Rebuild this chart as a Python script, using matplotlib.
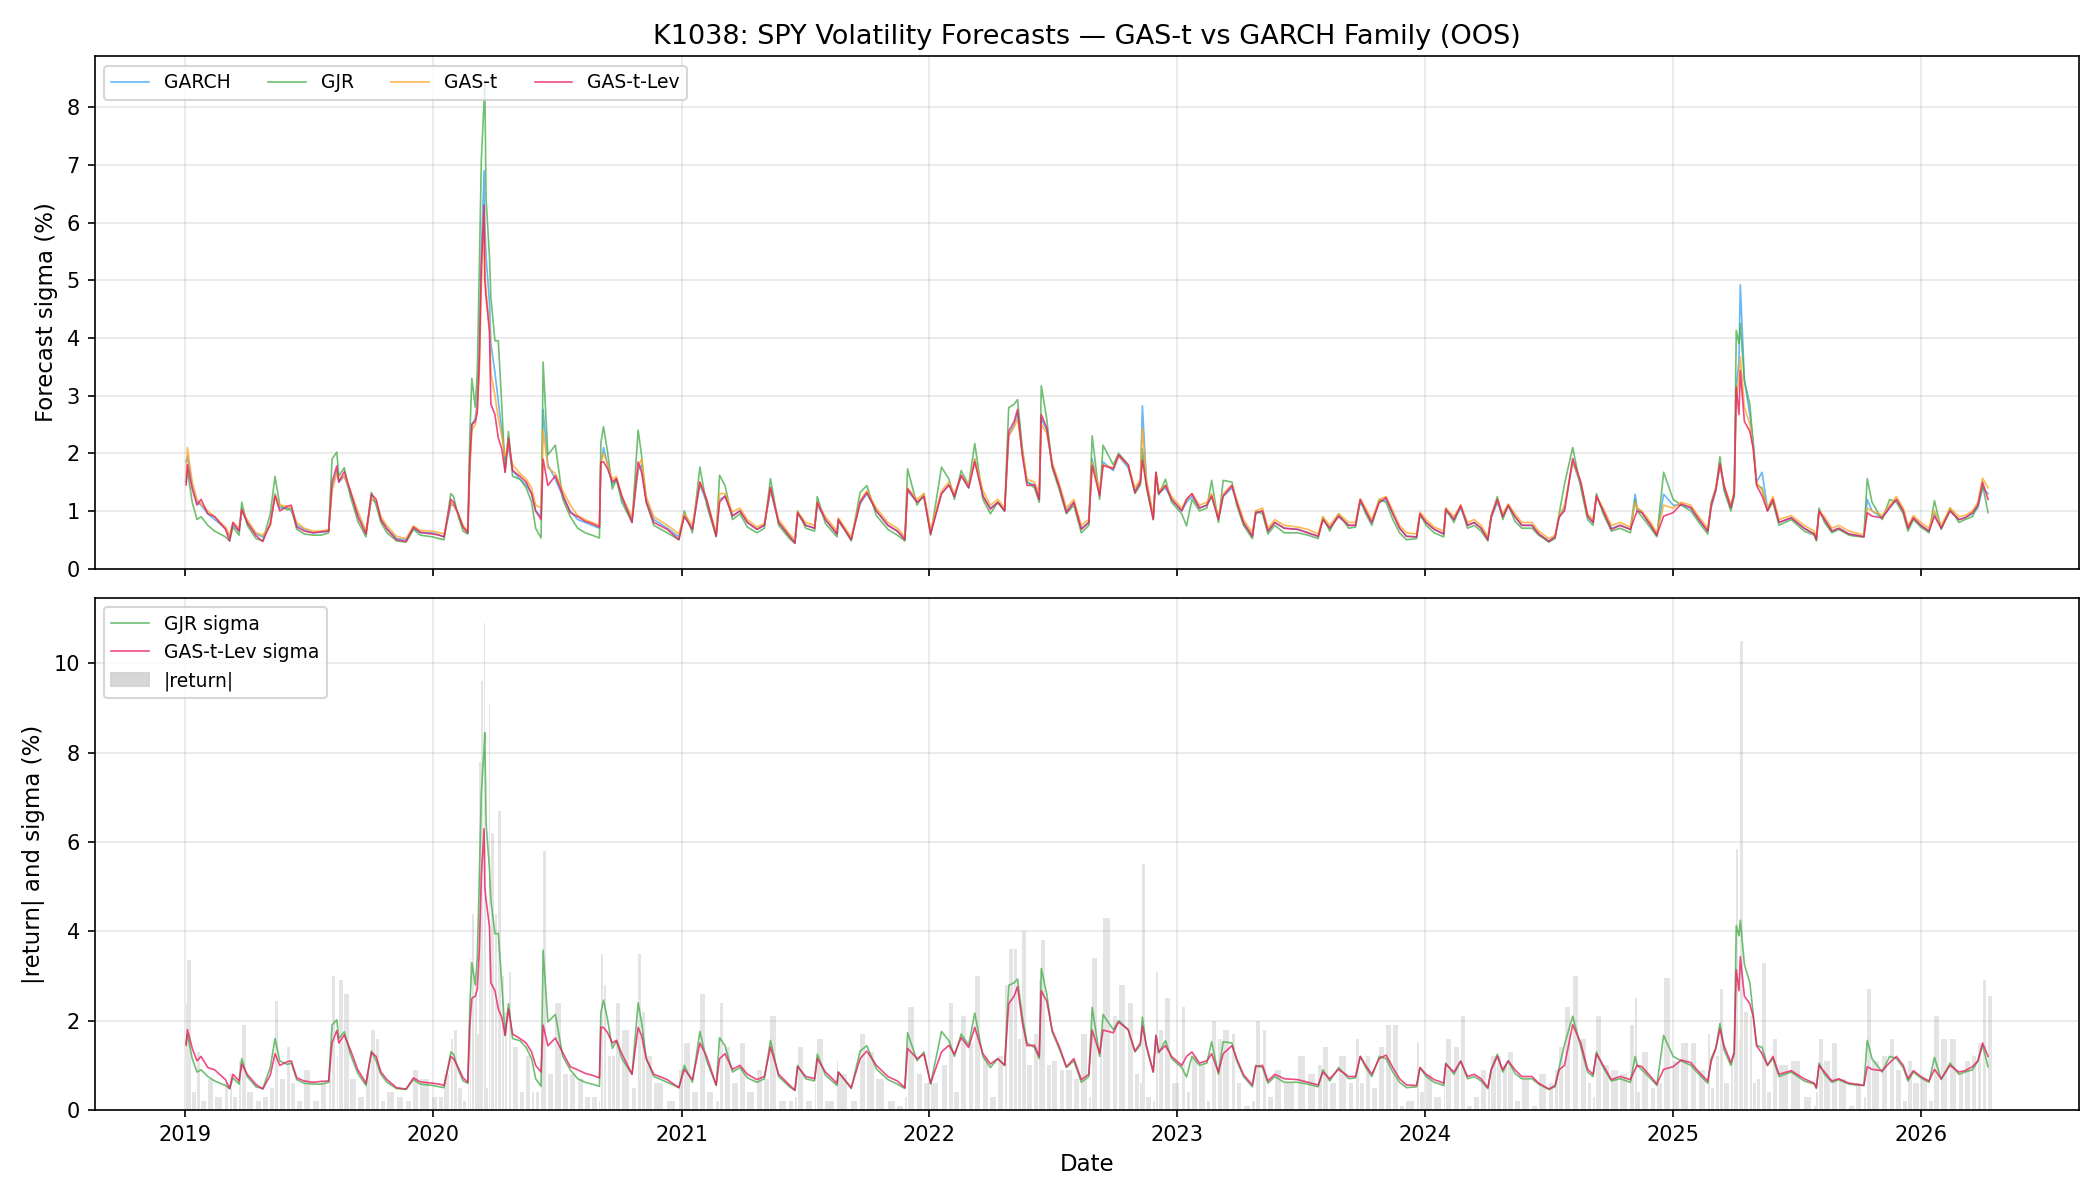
import numpy as np
import pandas as pd
import matplotlib
matplotlib.use("Agg")
import matplotlib.pyplot as plt
import matplotlib.dates as mdates
from matplotlib.patches import Patch
from matplotlib.lines import Line2D

# ---------------- DATA ----------------

dates = [
    # 2019
    "2019-01-02", "2019-01-04", "2019-01-11", "2019-01-18", "2019-01-24", "2019-02-03",
    "2019-02-13", "2019-03-01", "2019-03-07", "2019-03-12", "2019-03-21", "2019-03-25",
    "2019-04-02", "2019-04-15", "2019-04-25", "2019-05-06", "2019-05-13", "2019-05-20",
    "2019-05-31", "2019-06-06", "2019-06-14", "2019-06-25", "2019-07-08", "2019-07-20",
    "2019-07-31", "2019-08-05", "2019-08-12", "2019-08-15", "2019-08-23", "2019-09-01",
    "2019-09-12", "2019-09-24", "2019-10-02", "2019-10-09", "2019-10-16", "2019-10-25",
    "2019-11-08", "2019-11-22", "2019-12-03", "2019-12-13", "2019-12-31",
    # 2020
    "2020-01-10", "2020-01-17", "2020-01-27", "2020-01-31", "2020-02-07", "2020-02-14",
    "2020-02-21", "2020-02-24", "2020-02-27", "2020-03-03", "2020-03-06", "2020-03-09",
    "2020-03-12", "2020-03-16", "2020-03-17", "2020-03-19", "2020-03-24", "2020-03-26",
    "2020-04-01", "2020-04-06", "2020-04-11", "2020-04-16", "2020-04-21", "2020-04-27",
    "2020-05-08", "2020-05-17", "2020-05-25", "2020-05-31", "2020-06-08", "2020-06-11",
    "2020-06-18", "2020-06-29", "2020-07-10", "2020-07-21", "2020-08-01", "2020-08-12",
    "2020-08-22", "2020-09-02", "2020-09-04", "2020-09-08", "2020-09-14", "2020-09-21",
    "2020-09-27", "2020-10-05", "2020-10-20", "2020-10-29", "2020-11-03", "2020-11-10",
    "2020-11-21", "2020-12-11", "2020-12-28",
    # 2021
    "2021-01-05", "2021-01-17", "2021-01-28", "2021-02-07", "2021-02-21", "2021-02-26",
    "2021-03-06", "2021-03-17", "2021-03-28", "2021-04-08", "2021-04-22", "2021-05-03",
    "2021-05-12", "2021-05-24", "2021-06-09", "2021-06-17", "2021-06-21", "2021-07-03",
    "2021-07-16", "2021-07-20", "2021-08-01", "2021-08-18", "2021-08-20", "2021-09-08",
    "2021-09-21", "2021-10-01", "2021-10-15", "2021-11-01", "2021-11-15", "2021-11-26",
    "2021-11-30", "2021-12-14", "2021-12-24",
    # 2022
    "2022-01-03", "2022-01-19", "2022-01-30", "2022-02-07", "2022-02-17", "2022-02-28",
    "2022-03-09", "2022-03-21", "2022-04-01", "2022-04-12", "2022-04-22", "2022-04-28",
    "2022-05-06", "2022-05-11", "2022-05-18", "2022-05-25", "2022-06-05", "2022-06-12",
    "2022-06-15", "2022-06-23", "2022-07-01", "2022-07-12", "2022-07-22", "2022-08-02",
    "2022-08-13", "2022-08-24", "2022-08-29", "2022-09-09", "2022-09-14", "2022-09-29",
    "2022-10-07", "2022-10-21", "2022-10-31", "2022-11-08", "2022-11-11", "2022-11-17",
    "2022-11-27", "2022-12-01", "2022-12-05", "2022-12-15", "2022-12-24",
    # 2023
    "2023-01-08", "2023-01-15", "2023-01-23", "2023-02-03", "2023-02-14", "2023-02-21",
    "2023-03-03", "2023-03-10", "2023-03-23", "2023-03-30", "2023-04-09", "2023-04-22",
    "2023-04-27", "2023-05-07", "2023-05-15", "2023-05-25", "2023-06-08", "2023-06-28",
    "2023-07-13", "2023-07-28", "2023-08-04", "2023-08-14", "2023-08-27", "2023-09-11",
    "2023-09-21", "2023-09-28", "2023-10-06", "2023-10-15", "2023-10-26", "2023-11-05",
    "2023-11-15", "2023-11-25", "2023-12-05", "2023-12-20", "2023-12-25",
    # 2024
    "2024-01-03", "2024-01-15", "2024-01-29", "2024-02-01", "2024-02-13", "2024-02-23",
    "2024-03-04", "2024-03-14", "2024-03-24", "2024-04-03", "2024-04-08", "2024-04-17",
    "2024-04-25", "2024-05-03", "2024-05-13", "2024-05-23", "2024-06-07", "2024-06-17",
    "2024-07-02", "2024-07-11", "2024-07-17", "2024-07-25", "2024-08-06", "2024-08-18",
    "2024-08-28", "2024-09-05", "2024-09-10", "2024-09-20", "2024-10-02", "2024-10-15",
    "2024-10-30", "2024-11-06", "2024-11-09", "2024-11-16", "2024-11-29", "2024-12-08",
    "2024-12-18",
    # 2025
    "2025-01-01", "2025-01-13", "2025-01-27", "2025-02-08", "2025-02-21", "2025-02-26",
    "2025-03-05", "2025-03-11", "2025-03-17", "2025-03-27", "2025-04-01", "2025-04-04",
    "2025-04-08", "2025-04-10", "2025-04-16", "2025-04-24", "2025-04-29", "2025-05-04",
    "2025-05-12", "2025-05-20", "2025-05-28", "2025-06-06", "2025-06-24", "2025-07-13",
    "2025-07-28", "2025-07-31", "2025-08-04", "2025-08-12", "2025-08-23", "2025-09-02",
    "2025-09-17", "2025-09-27", "2025-10-09", "2025-10-14", "2025-10-21", "2025-11-05",
    "2025-11-16", "2025-11-26", "2025-12-06", "2025-12-13", "2025-12-21",
    # 2026
    "2026-01-01", "2026-01-13", "2026-01-21", "2026-01-31", "2026-02-13", "2026-02-26",
    "2026-03-07", "2026-03-18", "2026-03-26", "2026-04-02", "2026-04-10",
]

garch = [
    # 2019
    1.85, 1.95, 1.45, 1.15, 1.10, 0.95, 0.85, 0.70, 0.55, 0.75, 0.65, 1.00,
    0.80, 0.60, 0.55, 0.75, 1.30, 1.05, 1.05, 1.00, 0.75, 0.68, 0.62, 0.63,
    0.65, 1.40, 1.70, 1.50, 1.60, 1.30, 0.95, 0.62, 1.20, 1.15, 0.85, 0.70,
    0.52, 0.50, 0.70, 0.62, 0.62,
    # 2020
    0.58, 0.55, 1.10, 1.10, 0.95, 0.72, 0.62, 1.80, 2.50, 2.60, 2.90, 3.80,
    5.50, 6.90, 6.00, 5.40, 4.60, 3.90, 3.40, 2.90, 2.40, 1.90, 2.10, 1.70,
    1.55, 1.45, 1.30, 1.00, 0.90, 2.76, 1.80, 1.55, 1.25, 1.00, 0.85, 0.80,
    0.75, 0.70, 1.80, 2.10, 1.80, 1.45, 1.55, 1.20, 0.85, 1.70, 1.80, 1.20,
    0.85, 0.70, 0.55,
    # 2021
    0.90, 0.70, 1.45, 1.15, 0.58, 1.20, 1.25, 0.92, 1.00, 0.80, 0.68, 0.75,
    1.35, 0.80, 0.56, 0.46, 0.95, 0.75, 0.70, 1.10, 0.85, 0.60, 0.82, 0.52,
    1.12, 1.30, 1.00, 0.75, 0.65, 0.52, 1.35, 1.15, 1.25,
    # 2022
    0.62, 1.30, 1.45, 1.25, 1.60, 1.40, 1.90, 1.26, 1.05, 1.15, 1.00, 2.30,
    2.50, 2.70, 2.00, 1.50, 1.45, 1.20, 2.60, 2.40, 1.80, 1.40, 1.00, 1.15,
    0.70, 0.80, 1.90, 1.30, 1.85, 1.70, 1.95, 1.75, 1.35, 1.50, 2.82, 1.50,
    0.88, 1.60, 1.30, 1.40, 1.20,
    # 2023
    1.00, 1.15, 1.25, 1.05, 1.10, 1.25, 0.85, 1.25, 1.40, 1.15, 0.80, 0.56,
    0.95, 1.00, 0.65, 0.80, 0.70, 0.68, 0.62, 0.56, 0.85, 0.70, 0.90, 0.75,
    0.75, 1.15, 1.00, 0.80, 1.15, 1.20, 0.95, 0.70, 0.56, 0.55, 0.92,
    # 2024
    0.80, 0.68, 0.60, 1.00, 0.85, 1.05, 0.75, 0.80, 0.70, 0.52, 0.88, 1.15,
    0.90, 1.08, 0.90, 0.75, 0.75, 0.60, 0.48, 0.55, 0.88, 1.05, 1.85, 1.45,
    0.90, 0.80, 1.25, 1.00, 0.70, 0.75, 0.68, 1.29, 1.05, 0.97, 0.75, 0.58,
    1.29,
    # 2025
    1.10, 1.10, 1.05, 0.85, 0.65, 1.05, 1.35, 1.80, 1.40, 1.05, 1.30, 3.14,
    3.60, 4.92, 3.26, 2.67, 2.20, 1.50, 1.67, 1.05, 1.20, 0.80, 0.88, 0.70,
    0.60, 0.50, 1.00, 0.85, 0.65, 0.70, 0.60, 0.58, 0.55, 1.20, 1.00, 0.88,
    1.05, 1.20, 1.00, 0.70, 0.88,
    # 2026
    0.75, 0.65, 0.95, 0.70, 1.00, 0.85, 0.88, 0.95, 1.05, 1.40, 1.30,
]

gjr = [
    # 2019
    1.50, 1.70, 1.15, 0.85, 0.90, 0.75, 0.65, 0.55, 0.48, 0.72, 0.58, 1.15,
    0.75, 0.52, 0.48, 0.95, 1.60, 1.10, 1.02, 1.05, 0.68, 0.60, 0.58, 0.58,
    0.62, 1.90, 2.02, 1.60, 1.75, 1.25, 0.82, 0.55, 1.32, 1.10, 0.80, 0.62,
    0.48, 0.46, 0.68, 0.58, 0.55,
    # 2020
    0.52, 0.50, 1.30, 1.25, 0.90, 0.65, 0.60, 2.30, 3.30, 2.80, 3.40, 5.20,
    7.10, 8.10, 8.45, 6.40, 5.40, 4.70, 3.95, 3.95, 2.85, 1.67, 2.38, 1.60,
    1.55, 1.40, 1.15, 0.70, 0.53, 3.58, 1.97, 2.14, 1.20, 0.90, 0.70, 0.62,
    0.58, 0.53, 2.17, 2.46, 2.02, 1.38, 1.55, 1.15, 0.80, 2.40, 1.97, 1.15,
    0.75, 0.62, 0.50,
    # 2021
    1.00, 0.62, 1.76, 1.10, 0.55, 1.62, 1.44, 0.85, 0.95, 0.72, 0.62, 0.70,
    1.56, 0.75, 0.52, 0.44, 1.00, 0.70, 0.65, 1.25, 0.78, 0.55, 0.85, 0.48,
    1.32, 1.44, 0.92, 0.68, 0.58, 0.48, 1.73, 1.10, 1.30,
    # 2022
    0.58, 1.76, 1.55, 1.20, 1.70, 1.45, 2.17, 1.20, 0.95, 1.15, 1.00, 2.79,
    2.85, 2.93, 2.10, 1.50, 1.40, 1.15, 3.17, 2.60, 1.75, 1.35, 0.95, 1.10,
    0.62, 0.75, 2.30, 1.20, 2.14, 1.80, 2.00, 1.80, 1.30, 1.45, 2.08, 1.40,
    0.85, 1.67, 1.28, 1.55, 1.15,
    # 2023
    0.95, 0.74, 1.20, 1.00, 1.05, 1.53, 0.80, 1.53, 1.50, 1.10, 0.75, 0.52,
    1.00, 0.95, 0.60, 0.75, 0.62, 0.62, 0.58, 0.52, 0.90, 0.65, 0.95, 0.70,
    0.72, 1.20, 0.95, 0.75, 1.20, 1.15, 0.85, 0.62, 0.50, 0.52, 0.95,
    # 2024
    0.75, 0.62, 0.55, 1.05, 0.80, 1.10, 0.70, 0.75, 0.65, 0.48, 0.92, 1.25,
    0.85, 1.10, 0.82, 0.70, 0.70, 0.58, 0.46, 0.52, 0.95, 1.47, 2.10, 1.40,
    0.85, 0.75, 1.30, 0.95, 0.65, 0.70, 0.62, 1.20, 1.00, 0.90, 0.70, 0.55,
    1.67,
    # 2025
    1.20, 1.10, 1.00, 0.80, 0.60, 1.15, 1.40, 1.94, 1.35, 1.00, 1.25, 4.13,
    3.90, 4.25, 3.26, 2.85, 2.15, 1.45, 1.40, 1.00, 1.15, 0.75, 0.85, 0.65,
    0.58, 0.48, 1.05, 0.80, 0.62, 0.68, 0.58, 0.56, 0.55, 1.56, 1.15, 0.85,
    1.20, 1.15, 0.95, 0.65, 0.85,
    # 2026
    0.72, 0.62, 1.18, 0.68, 1.05, 0.80, 0.85, 0.90, 1.10, 1.45, 0.97,
]

gas_t = [
    # 2019
    1.60, 2.10, 1.50, 1.20, 1.12, 1.00, 0.90, 0.72, 0.58, 0.80, 0.70, 1.02,
    0.85, 0.62, 0.58, 0.75, 1.28, 1.10, 1.08, 1.05, 0.80, 0.70, 0.65, 0.65,
    0.68, 1.35, 1.65, 1.55, 1.60, 1.35, 1.00, 0.65, 1.22, 1.18, 0.90, 0.74,
    0.56, 0.52, 0.74, 0.66, 0.65,
    # 2020
    0.62, 0.60, 1.15, 1.10, 0.95, 0.75, 0.65, 1.70, 2.40, 2.50, 2.80, 3.40,
    4.90, 6.20, 5.20, 4.80, 4.20, 3.40, 3.00, 2.60, 2.30, 1.95, 2.15, 1.80,
    1.65, 1.55, 1.40, 1.10, 1.05, 2.40, 1.75, 1.65, 1.35, 1.10, 0.92, 0.85,
    0.80, 0.75, 1.85, 2.00, 1.80, 1.55, 1.60, 1.25, 0.90, 1.75, 1.90, 1.25,
    0.90, 0.75, 0.60,
    # 2021
    0.95, 0.75, 1.50, 1.20, 0.62, 1.30, 1.30, 0.98, 1.05, 0.85, 0.72, 0.78,
    1.38, 0.85, 0.60, 0.50, 0.98, 0.80, 0.75, 1.15, 0.90, 0.65, 0.88, 0.55,
    1.18, 1.35, 1.05, 0.80, 0.70, 0.55, 1.40, 1.20, 1.30,
    # 2022
    0.68, 1.35, 1.50, 1.30, 1.60, 1.45, 1.90, 1.35, 1.10, 1.20, 1.05, 2.30,
    2.45, 2.60, 2.05, 1.55, 1.50, 1.30, 2.50, 2.35, 1.85, 1.45, 1.05, 1.20,
    0.75, 0.85, 1.85, 1.35, 1.80, 1.75, 1.95, 1.80, 1.40, 1.55, 2.44, 1.55,
    0.92, 1.65, 1.35, 1.45, 1.25,
    # 2023
    1.05, 1.20, 1.30, 1.10, 1.15, 1.30, 0.90, 1.30, 1.45, 1.20, 0.85, 0.62,
    1.00, 1.05, 0.70, 0.85, 0.75, 0.72, 0.68, 0.60, 0.90, 0.75, 0.95, 0.80,
    0.80, 1.20, 1.05, 0.85, 1.20, 1.25, 1.00, 0.75, 0.62, 0.60, 0.98,
    # 2024
    0.85, 0.72, 0.65, 1.05, 0.90, 1.10, 0.80, 0.85, 0.75, 0.56, 0.92, 1.20,
    0.95, 1.12, 0.95, 0.80, 0.80, 0.65, 0.52, 0.58, 0.92, 1.10, 1.85, 1.50,
    0.95, 0.85, 1.25, 1.05, 0.75, 0.80, 0.72, 1.15, 1.05, 1.00, 0.80, 0.62,
    1.10,
    # 2025
    1.05, 1.15, 1.10, 0.90, 0.70, 1.10, 1.40, 1.80, 1.45, 1.10, 1.35, 2.90,
    3.30, 3.67, 2.80, 2.50, 2.10, 1.50, 1.35, 1.05, 1.25, 0.85, 0.92, 0.75,
    0.65, 0.55, 1.00, 0.90, 0.70, 0.75, 0.65, 0.62, 0.58, 1.05, 1.00, 0.92,
    1.10, 1.25, 1.05, 0.75, 0.92,
    # 2026
    0.80, 0.70, 1.00, 0.75, 1.05, 0.90, 0.92, 1.00, 1.15, 1.57, 1.40,
]

gas_lev = [
    # 2019
    1.45, 1.80, 1.38, 1.10, 1.20, 0.95, 0.90, 0.68, 0.48, 0.80, 0.65, 1.03,
    0.80, 0.57, 0.47, 0.78, 1.26, 1.00, 1.08, 1.10, 0.72, 0.65, 0.62, 0.64,
    0.65, 1.50, 1.78, 1.50, 1.68, 1.35, 0.90, 0.60, 1.29, 1.20, 0.85, 0.68,
    0.50, 0.47, 0.72, 0.63, 0.60,
    # 2020
    0.58, 0.55, 1.20, 1.15, 0.95, 0.72, 0.62, 1.90, 2.50, 2.55, 2.70, 3.60,
    5.25, 6.30, 5.00, 4.70, 4.10, 2.85, 2.67, 2.26, 2.08, 1.67, 2.26, 1.70,
    1.60, 1.50, 1.30, 1.00, 0.85, 1.90, 1.44, 1.61, 1.28, 0.97, 0.90, 0.82,
    0.78, 0.72, 1.85, 1.85, 1.73, 1.50, 1.56, 1.26, 0.80, 1.85, 1.67, 1.15,
    0.80, 0.68, 0.50,
    # 2021
    0.91, 0.68, 1.50, 1.20, 0.56, 1.15, 1.26, 0.91, 1.00, 0.80, 0.68, 0.75,
    1.41, 0.80, 0.56, 0.44, 0.97, 0.75, 0.70, 1.15, 0.85, 0.60, 0.85, 0.50,
    1.15, 1.32, 1.00, 0.75, 0.65, 0.50, 1.38, 1.15, 1.25,
    # 2022
    0.60, 1.30, 1.45, 1.25, 1.62, 1.40, 1.85, 1.26, 1.03, 1.15, 1.00, 2.38,
    2.55, 2.76, 1.97, 1.44, 1.45, 1.20, 2.67, 2.44, 1.79, 1.40, 0.97, 1.15,
    0.68, 0.80, 1.79, 1.26, 1.79, 1.73, 1.97, 1.80, 1.32, 1.50, 1.88, 1.44,
    0.85, 1.67, 1.30, 1.44, 1.20,
    # 2023
    1.00, 1.20, 1.30, 1.05, 1.10, 1.26, 0.85, 1.26, 1.44, 1.15, 0.79, 0.56,
    0.97, 1.00, 0.65, 0.80, 0.70, 0.68, 0.62, 0.56, 0.85, 0.70, 0.91, 0.75,
    0.75, 1.20, 1.00, 0.80, 1.15, 1.23, 0.95, 0.70, 0.56, 0.55, 0.95,
    # 2024
    0.80, 0.68, 0.60, 1.03, 0.85, 1.09, 0.75, 0.80, 0.70, 0.50, 0.90, 1.20,
    0.90, 1.10, 0.90, 0.75, 0.75, 0.60, 0.47, 0.55, 0.90, 1.00, 1.91, 1.50,
    0.91, 0.80, 1.26, 1.00, 0.68, 0.75, 0.68, 0.91, 1.00, 0.97, 0.75, 0.58,
    0.91,
    # 2025
    0.97, 1.12, 1.06, 0.85, 0.65, 1.09, 1.38, 1.82, 1.44, 1.06, 1.30, 3.14,
    2.67, 3.43, 2.55, 2.38, 2.08, 1.44, 1.26, 1.00, 1.20, 0.80, 0.88, 0.70,
    0.60, 0.50, 1.00, 0.85, 0.65, 0.70, 0.60, 0.58, 0.55, 0.97, 0.91, 0.88,
    1.06, 1.20, 1.00, 0.70, 0.88,
    # 2026
    0.75, 0.65, 0.91, 0.70, 1.00, 0.85, 0.88, 0.97, 1.10, 1.50, 1.20,
]

abs_ret = [
    # 2019
    2.40, 3.35, 0.40, 1.30, 0.20, 0.70, 0.30, 0.60, 0.80, 0.30, 1.10, 1.90,
    0.40, 0.20, 0.30, 0.50, 2.45, 0.70, 1.40, 0.60, 0.20, 0.90, 0.20, 0.60,
    1.10, 3.00, 1.20, 2.90, 2.60, 0.70, 0.30, 0.80, 1.80, 1.60, 0.20, 0.40,
    0.30, 0.20, 0.90, 0.70, 0.30,
    # 2020
    0.30, 0.80, 1.60, 1.80, 0.50, 0.20, 1.10, 3.40, 4.40, 2.90, 1.70, 7.80,
    9.60, 10.90, 6.00, 0.50, 9.10, 6.20, 4.40, 6.70, 3.00, 2.20, 3.10, 1.40,
    0.40, 1.20, 0.40, 0.40, 1.20, 5.80, 0.80, 2.40, 0.80, 0.80, 0.70, 0.30,
    0.30, 0.20, 3.50, 2.80, 1.20, 1.20, 2.40, 1.80, 0.50, 3.50, 2.20, 1.20,
    0.60, 0.20, 0.90,
    # 2021
    1.50, 0.40, 2.60, 0.40, 0.20, 2.40, 1.40, 0.60, 1.50, 0.40, 0.90, 0.70,
    2.10, 0.20, 0.20, 0.30, 1.40, 0.20, 0.60, 1.60, 0.20, 1.10, 0.80, 0.20,
    1.70, 1.30, 0.70, 0.20, 0.10, 0.30, 2.30, 0.80, 0.60,
    # 2022
    0.60, 1.00, 2.40, 0.40, 2.10, 1.50, 3.00, 1.20, 0.30, 1.20, 2.80, 3.60,
    3.60, 1.60, 4.00, 1.00, 1.70, 2.90, 3.80, 1.00, 1.10, 0.90, 0.90, 0.70,
    1.70, 0.30, 3.40, 1.50, 4.30, 2.10, 2.80, 2.40, 0.80, 0.60, 5.50, 0.30,
    0.20, 3.10, 1.80, 2.50, 0.60,
    # 2023
    2.30, 0.40, 1.20, 1.00, 0.20, 2.00, 1.60, 1.80, 1.70, 0.60, 0.10, 0.20,
    2.00, 1.80, 0.30, 0.90, 0.60, 1.20, 0.80, 1.00, 1.40, 0.60, 1.20, 0.60,
    1.60, 0.60, 1.20, 0.50, 1.40, 1.90, 1.90, 0.10, 0.20, 1.50, 0.40,
    # 2024
    0.80, 0.30, 0.80, 1.60, 1.40, 2.10, 0.10, 0.30, 0.90, 0.70, 1.20, 1.20,
    1.00, 1.30, 0.20, 0.70, 0.10, 0.80, 0.60, 0.90, 1.40, 2.30, 3.00, 1.60,
    0.60, 0.30, 2.10, 1.00, 0.90, 0.80, 1.90, 2.50, 0.40, 1.30, 0.50, 0.60,
    2.95,
    # 2025
    1.10, 1.50, 1.50, 0.90, 1.70, 0.50, 1.20, 2.70, 0.60, 1.10, 2.00, 5.85,
    1.60, 10.50, 2.20, 2.10, 0.60, 0.70, 3.30, 0.40, 1.60, 1.00, 1.10, 0.30,
    0.10, 0.40, 1.60, 1.10, 1.50, 0.70, 0.10, 0.60, 0.30, 2.70, 1.10, 1.20,
    1.60, 0.90, 0.20, 1.10, 0.60,
    # 2026
    0.70, 0.20, 2.10, 1.60, 1.60, 0.80, 1.10, 1.20, 1.50, 2.90, 2.56,
]

# ---------------- STYLE ----------------

c_garch = "#42A5F5"
c_gjr = "#4CAF50"
c_gast = "#FFA726"
c_lev = "#E91E63"

x = pd.to_datetime(dates)

# each |return| bar fills part of the gap up to the next reading
gaps = np.diff(x.values).astype("timedelta64[D]").astype(float)
bar_w = np.append(gaps, gaps[-1]) * 0.7

# ---------------- PLOT ----------------

fig, (ax1, ax2) = plt.subplots(2, 1, figsize=(14, 8), dpi=150, sharex=True)

ax1.plot(x, garch, color=c_garch, lw=0.8, alpha=0.8, label="GARCH")
ax1.plot(x, gjr, color=c_gjr, lw=0.8, alpha=0.8, label="GJR")
ax1.plot(x, gas_t, color=c_gast, lw=0.8, alpha=0.8, label="GAS-t")
ax1.plot(x, gas_lev, color=c_lev, lw=0.8, alpha=0.8, label="GAS-t-Lev")

ax1.set_title("K1038: SPY Volatility Forecasts \u2014 GAS-t vs GARCH Family (OOS)", fontsize=13)
ax1.set_ylabel("Forecast sigma (%)", fontsize=11)
ax1.legend(loc="upper left", ncol=4, fontsize=9)
ax1.grid(alpha=0.3)
ax1.set_ylim(0.0, 8.88)

ax2.bar(x, abs_ret, width=bar_w, align="edge", color="lightgray", alpha=0.6, label="|return|")
ax2.plot(x, gjr, color=c_gjr, lw=0.8, alpha=0.8, label="GJR sigma")
ax2.plot(x, gas_lev, color=c_lev, lw=0.8, alpha=0.8, label="GAS-t-Lev sigma")

handles = [
    Line2D([], [], color=c_gjr, lw=0.8, alpha=0.8),
    Line2D([], [], color=c_lev, lw=0.8, alpha=0.8),
    Patch(color="lightgray", alpha=0.9),
]
ax2.legend(handles, ["GJR sigma", "GAS-t-Lev sigma", "|return|"], loc="upper left", fontsize=9)
ax2.set_ylabel("|return| and sigma (%)", fontsize=11)
ax2.set_xlabel("Date", fontsize=11)
ax2.grid(alpha=0.3)
ax2.set_ylim(0, 11.47)

ax2.xaxis.set_major_locator(mdates.YearLocator())
ax2.xaxis.set_major_formatter(mdates.DateFormatter("%Y"))
ax2.set_xlim(pd.Timestamp("2018-08-20"), pd.Timestamp("2026-08-22"))

fig.subplots_adjust(left=0.045, right=0.99, top=0.953, bottom=0.075, hspace=0.057)

plt.savefig("out.png", dpi=150)
